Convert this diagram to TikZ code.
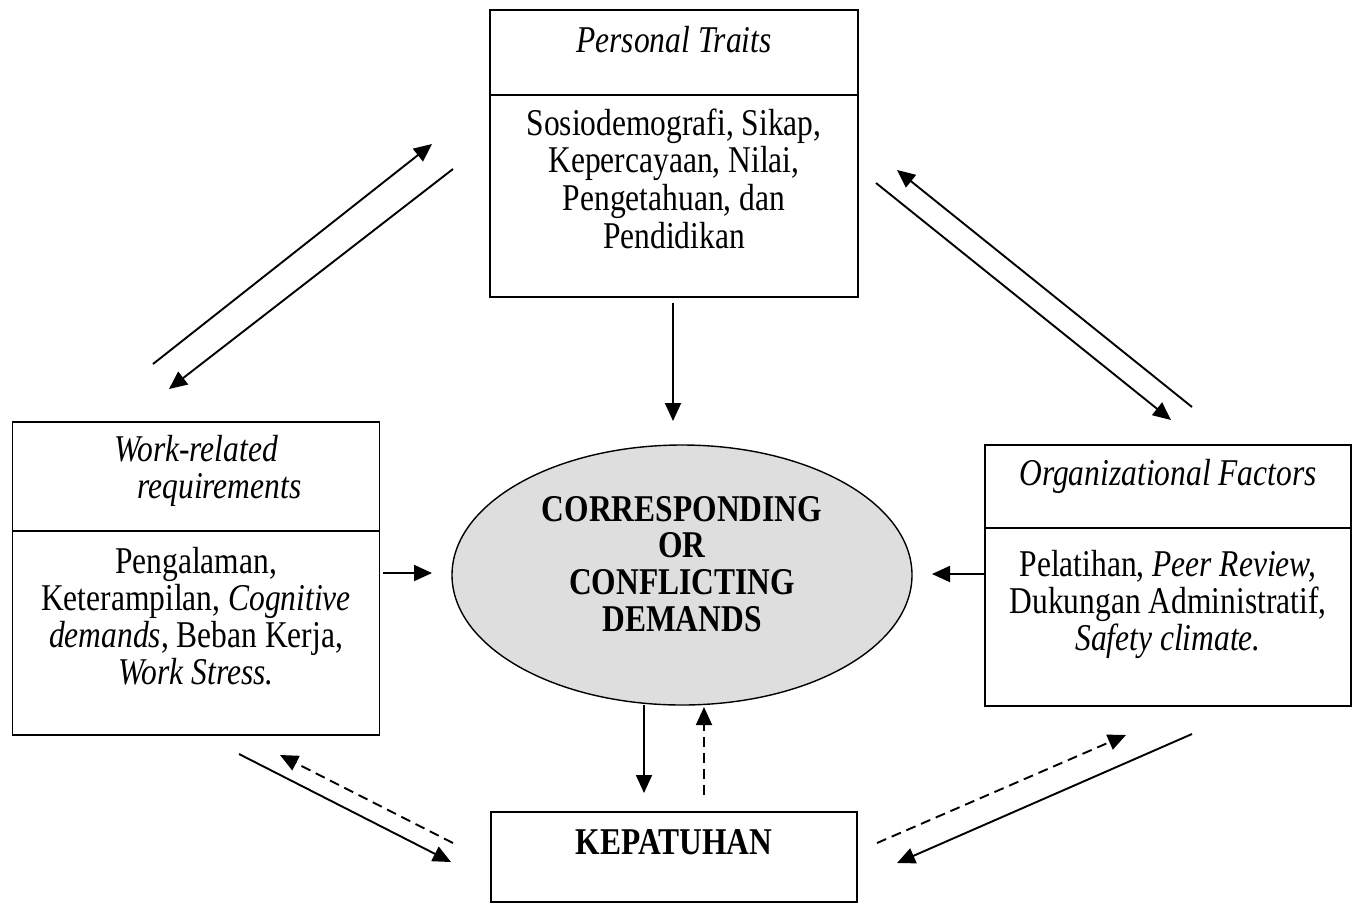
\documentclass[tikz,border=0pt]{standalone}
\usepackage{graphicx}
\usepackage{fontspec}
\setmainfont{Liberation Serif}
\usetikzlibrary{arrows.meta,shapes.geometric}
% centred lines set a little taller than wide; baseline at the first line
\newcommand\tallstack[2]{\scalebox{1}[1.2]{\fontsize{31.5}{#1}\selectfont
  \renewcommand\arraystretch{1}\begin{tabular}[t]{@{}c@{}}#2\end{tabular}}}
\begin{document}
\begin{tikzpicture}[x=1pt,y=-1pt,
  panel/.style={draw,line width=1.8pt,inner sep=0pt,outer sep=0pt},
  label/.style={anchor=base,inner sep=0pt},
  link/.style={line width=1.9pt,-{Triangle[length=18pt,width=16pt]}},
  backlink/.style={link,dash pattern=on 10pt off 6pt}]
\useasboundingbox (0,0) rectangle (1359,906);

% --- Personal Traits
\node[panel,minimum width=368pt,minimum height=85pt]  (ptHead) at (674,52.5) {};
\node[panel,minimum width=368pt,minimum height=202pt] (ptBody) at (674,196) {};
\node[label] (ptHeadText) at (674,52) {\tallstack{31.5}{\itshape Personal Traits}};
\node[label] (ptBodyText) at (674,135)
  {\tallstack{31.6}{Sosiodemografi, Sikap,\\ Kepercayaan, Nilai,\\ Pengetahuan, dan\\ Pendidikan}};

% --- Work-related requirements
\node[panel,minimum width=367pt,minimum height=109pt] (wrHead) at (196,476.5) {};
\node[panel,minimum width=367pt,minimum height=204pt] (wrBody) at (196,633) {};
\node[label] (wrHeadText) at (196,461)
  {\tallstack{31.6}{\itshape Work-related\\ \itshape\hspace*{47pt}requirements}};
\node[label] (wrBodyText) at (196,573)
  {\tallstack{30.6}{Pengalaman,\\ Keterampilan, \textit{Cognitive}\\ \textit{demands}, Beban Kerja,\\ \textit{Work Stress.}}};

% --- Organizational Factors
\node[panel,minimum width=366pt,minimum height=83pt]  (ofHead) at (1168,486.5) {};
\node[panel,minimum width=366pt,minimum height=178pt] (ofBody) at (1168,617) {};
\node[label] (ofHeadText) at (1168,485) {\tallstack{31.5}{\itshape Organizational Factors}};
\node[label] (ofBodyText) at (1168,576)
  {\tallstack{30}{Pelatihan, \textit{Peer Review,}\\ Dukungan Administratif,\\ \textit{Safety climate.}}};

% --- central demands
\node[draw,ellipse,line width=1.4pt,fill=black!13,minimum width=460pt,minimum height=260pt,
      inner sep=0pt] (demands) at (682,575) {};
\node[label] (demandsText) at (682,521)
  {\bfseries\tallstack{30.8}{CORRESPONDING\\ OR\\ CONFLICTING\\ DEMANDS}};

% --- outcome
\node[panel,minimum width=366pt,minimum height=90pt] (comply) at (674,857) {};
\node[label] (complyText) at (674,854) {\bfseries\tallstack{31.5}{KEPATUHAN}};

% --- connector ends
\coordinate (a1s) at (153,364);  \coordinate (a1e) at (432,144);
\coordinate (a2s) at (453,169);  \coordinate (a2e) at (169,389);
\coordinate (b1s) at (876,183);  \coordinate (b1e) at (1171,420);
\coordinate (b2s) at (1192,407); \coordinate (b2e) at (897,170);
\coordinate (cs) at (673,303);   \coordinate (ce) at (673,421);
\coordinate (ds) at (383,573);   \coordinate (de) at (432,573);
\coordinate (es) at (986,574);   \coordinate (ee) at (932,574);
\coordinate (fs) at (644,705);   \coordinate (fe) at (644,793);
\coordinate (gs) at (704,795);   \coordinate (ge) at (704,707);
\coordinate (hs) at (239,754);   \coordinate (he) at (451,862);
\coordinate (is) at (453,843);   \coordinate (ie) at (280,755);
\coordinate (js) at (877,843);   \coordinate (je) at (1126,735);
\coordinate (ks) at (1192,734);  \coordinate (ke) at (897,863);

% --- connectors
\draw[link] (a1s) -- (a1e);
\draw[link] (a2s) -- (a2e);
\draw[link] (b1s) -- (b1e);
\draw[link] (b2s) -- (b2e);
\draw[link] (cs) -- (ce);
\draw[link] (ds) -- (de);
\draw[link] (es) -- (ee);
\draw[link] (fs) -- (fe);
\draw[backlink] (gs) -- (ge);
\draw[link] (hs) -- (he);
\draw[backlink] (is) -- (ie);
\draw[backlink] (js) -- (je);
\draw[link] (ks) -- (ke);
\end{tikzpicture}
\end{document}
